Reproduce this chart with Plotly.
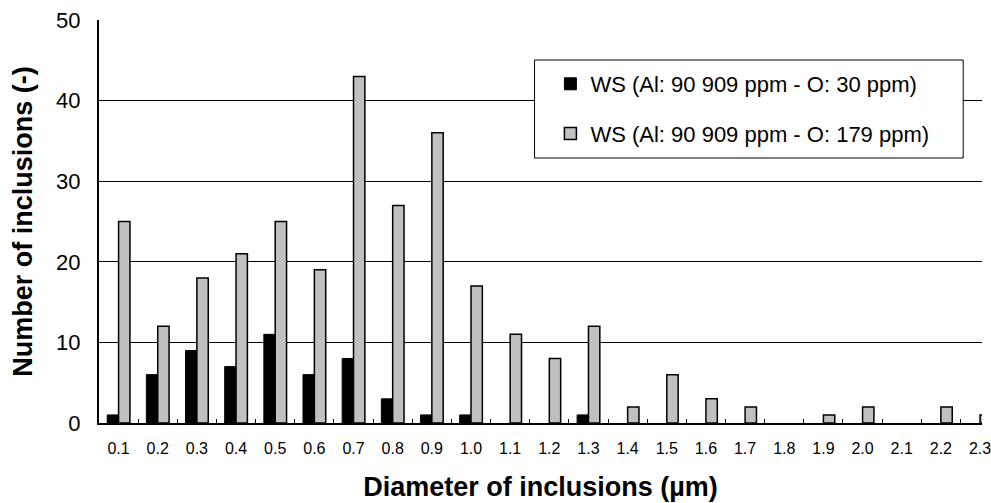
import plotly.graph_objects as go

categories = ["0.1", "0.2", "0.3", "0.4", "0.5", "0.6", "0.7", "0.8", "0.9", "1.0",
              "1.1", "1.2", "1.3", "1.4", "1.5", "1.6", "1.7", "1.8", "1.9", "2.0",
              "2.1", "2.2", "2.3"]
o30 = [1, 6, 9, 7, 11, 6, 8, 3, 1, 1, 0, 0, 1, 0, 0, 0, 0, 0, 0, 0, 0, 0, 0]
o179 = [25, 12, 18, 21, 25, 19, 43, 27, 36, 17, 11, 8, 12, 2, 6, 3, 2, 0, 1, 2, 0, 2, 1]
series_names = ["WS (Al: 90 909 ppm - O: 30 ppm)", "WS (Al: 90 909 ppm - O: 179 ppm)"]
y_ticks = [0, 10, 20, 30, 40, 50]

W, H = 991, 503
ML, MR, MT, MB = 99, 0, 20, 80
pw, ph = W - ML - MR, H - MT - MB

def px(x):
    return (x - ML) / pw

def py(y):
    return (H - MB - y) / ph

def nz(vals):
    # zero counts are not drawn as bars (no visible outline)
    return [v if v else None for v in vals]

fig = go.Figure()
fig.add_trace(go.Bar(x=categories, y=nz(o30), name=series_names[0],
                     marker=dict(color="#000000", line=dict(color="#000000", width=1)),
                     legendgroup="a"))
fig.add_trace(go.Bar(x=categories, y=nz(o179), name=series_names[1],
                     marker=dict(color="#C0C0C0", line=dict(color="#000000", width=1.5)),
                     legendgroup="b"))

fig.update_layout(
    width=W, height=H,
    margin=dict(l=ML, r=MR, t=MT, b=MB),
    paper_bgcolor="white", plot_bgcolor="white",
    barmode="group", bargap=0.42, bargroupgap=0,
    font=dict(family="Arial, Liberation Sans, sans-serif", color="black"),
    showlegend=True,
    legend=dict(x=px(555), y=py(63), xanchor="left", yanchor="top",
                bgcolor="rgba(0,0,0,0)", borderwidth=0,
                font=dict(size=22, color="black"),
                traceorder="grouped", tracegroupgap=18),
    shapes=[dict(type="rect", xref="paper", yref="paper",
                 x0=px(539), x1=px(972), y0=py(158), y1=py(60),
                 line=dict(color="black", width=1), fillcolor="white", layer="above")],
)
fig.update_xaxes(
    type="category", range=[-0.5, 22.05],
    showline=True, linecolor="black", linewidth=2,
    ticks="inside", ticklen=4, tickcolor="black", tickwidth=1,
    tickson="boundaries", showgrid=False,
    tickfont=dict(size=16, color="black"), ticklabelstandoff=10,
    title=dict(text="<b>Diameter of inclusions (µm)</b>", font=dict(size=27), standoff=21),
)
fig.update_yaxes(
    range=[0, 50], tickvals=y_ticks,
    showline=True, linecolor="black", linewidth=2,
    showgrid=True, gridcolor="black", gridwidth=1,
    ticks="", zeroline=False,
    tickfont=dict(size=22, color="black"), ticklabelstandoff=12,
    title=dict(text="<b>Number of inclusions (-)</b>", font=dict(size=27), standoff=16),
)

fig.write_html("out.html", config={"displayModeBar": False},
               post_script="document.body.style.margin='0';document.body.style.overflow='hidden';")
